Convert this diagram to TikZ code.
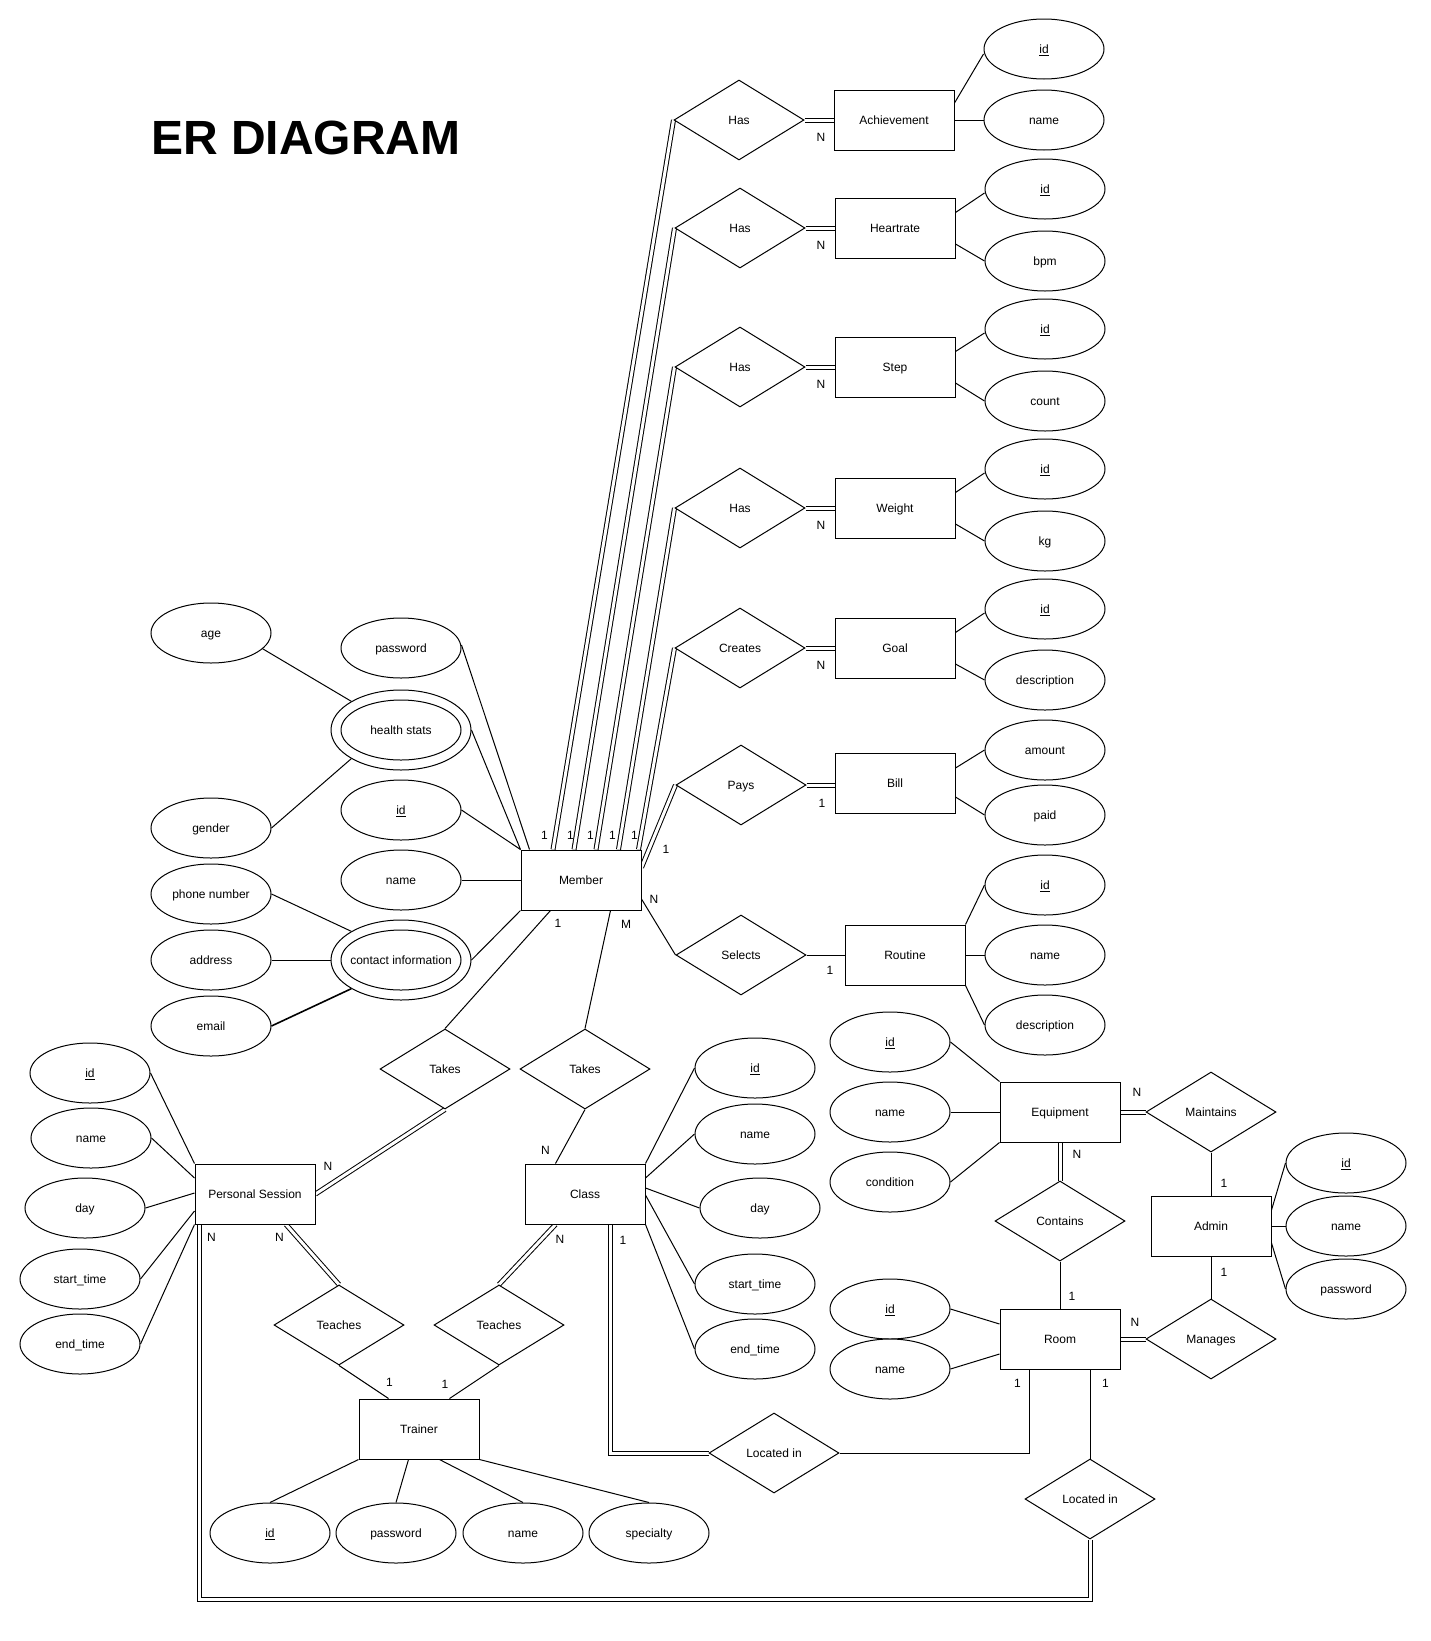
\documentclass[tikz,border=0pt]{standalone}
\usepackage{fontspec}
\setmainfont{Liberation Sans}
\usetikzlibrary{shapes.geometric,calc,backgrounds}
\newcommand\mk[1]{\makebox[0pt]{\rule[-2.4pt]{0pt}{13.4pt}#1}}
\tikzset{
 ent/.style={draw, rectangle, minimum width=120pt, minimum height=60pt, inner sep=0pt, fill=white, line width=1pt},
 rel/.style={draw, diamond, minimum width=130pt, minimum height=80pt, inner sep=0pt, fill=white, line width=1pt},
 att/.style={draw, ellipse, minimum width=120pt, minimum height=60pt, inner sep=0pt, fill=white, line width=1pt},
 mattout/.style={draw, ellipse, minimum width=140pt, minimum height=80pt, inner sep=0pt, fill=white, line width=1pt},
 card/.style={inner sep=0pt},
 conn/.style={line width=1pt},
 dbl/.style={double, double distance=3pt, line width=1pt},
}
\begin{document}
\begin{tikzpicture}[x=1pt,y=-1pt,font=\fontsize{12}{14}\selectfont]
\begin{pgfonlayer}{background}
\fill[white] (0,0) rectangle (1431,1641);
\end{pgfonlayer}
\useasboundingbox (0,0) rectangle (1431,1641);

% title
\node[anchor=base west, inner sep=0pt, font=\bfseries\fontsize{48}{56}\selectfont] (title) at (151,154) {ER DIAGRAM};

% entities
\node[ent] (ach) at (894,120) {\mk{Achievement}};
\node[ent] (hr) at (895,228) {\mk{Heartrate}};
\node[ent] (step) at (895,367) {\mk{Step}};
\node[ent] (wt) at (895,508) {\mk{Weight}};
\node[ent] (goal) at (895,648) {\mk{Goal}};
\node[ent] (bill) at (895,783) {\mk{Bill}};
\node[ent] (rout) at (905,955) {\mk{Routine}};
\node[ent] (mem) at (581,880) {\mk{Member}};
\node[ent] (ps) at (255,1194) {\mk{Personal Session}};
\node[ent] (cls) at (585,1194) {\mk{Class}};
\node[ent] (trn) at (419,1429) {\mk{Trainer}};
\node[ent] (eqp) at (1060,1112) {\mk{Equipment}};
\node[ent] (adm) at (1211,1226) {\mk{Admin}};
\node[ent] (room) at (1060,1339) {\mk{Room}};

% relationships
\node[rel] (has1) at (739,120) {\mk{Has}};
\node[rel] (has2) at (740,228) {\mk{Has}};
\node[rel] (has3) at (740,367) {\mk{Has}};
\node[rel] (has4) at (740,508) {\mk{Has}};
\node[rel] (creates) at (740,648) {\mk{Creates}};
\node[rel] (pays) at (741,785) {\mk{Pays}};
\node[rel] (selects) at (741,955) {\mk{Selects}};
\node[rel] (takesP) at (445,1069) {\mk{Takes}};
\node[rel] (takesC) at (585,1069) {\mk{Takes}};
\node[rel] (teachP) at (339,1325) {\mk{Teaches}};
\node[rel] (teachC) at (499,1325) {\mk{Teaches}};
\node[rel] (locC) at (774,1453) {\mk{Located in}};
\node[rel] (locR) at (1090,1499) {\mk{Located in}};
\node[rel] (maint) at (1211,1112) {\mk{Maintains}};
\node[rel] (contains) at (1060,1221) {\mk{Contains}};
\node[rel] (manages) at (1211,1339) {\mk{Manages}};

% attributes right column
\node[att] (achid) at (1044,49) {\mk{\underline{id}}};
\node[att] (achname) at (1044,120) {\mk{name}};
\node[att] (hrid) at (1045,189) {\mk{\underline{id}}};
\node[att] (hrbpm) at (1045,261) {\mk{bpm}};
\node[att] (stid) at (1045,329) {\mk{\underline{id}}};
\node[att] (stcount) at (1045,401) {\mk{count}};
\node[att] (wtid) at (1045,469) {\mk{\underline{id}}};
\node[att] (wtkg) at (1045,541) {\mk{kg}};
\node[att] (gid) at (1045,609) {\mk{\underline{id}}};
\node[att] (gdesc) at (1045,680) {\mk{description}};
\node[att] (bamt) at (1045,750) {\mk{amount}};
\node[att] (bpaid) at (1045,815) {\mk{paid}};
\node[att] (rid) at (1045,885) {\mk{\underline{id}}};
\node[att] (rname) at (1045,955) {\mk{name}};
\node[att] (rdesc) at (1045,1025) {\mk{description}};

% member attributes
\node[att] (age) at (211,633) {\mk{age}};
\node[att] (pwd) at (401,648) {\mk{password}};
\node[mattout] (health) at (401,730) {};
\node[att] (healthin) at (401,730) {\mk{health stats}};
\node[att] (gender) at (211,828) {\mk{gender}};
\node[att] (mid) at (401,810) {\mk{\underline{id}}};
\node[att] (mname) at (401,880) {\mk{name}};
\node[att] (phone) at (211,894) {\mk{phone number}};
\node[att] (addr) at (211,960) {\mk{address}};
\node[mattout] (contact) at (401,960) {};
\node[att] (contactin) at (401,960) {\mk{contact information}};
\node[att] (email) at (211,1026) {\mk{email}};

% personal session attributes
\node[att] (psid) at (90,1073) {\mk{\underline{id}}};
\node[att] (psname) at (91,1138) {\mk{name}};
\node[att] (psday) at (85,1208) {\mk{day}};
\node[att] (psst) at (80,1279) {\mk{start\_time}};
\node[att] (pset) at (80,1344) {\mk{end\_time}};

% class attributes
\node[att] (cid) at (755,1068) {\mk{\underline{id}}};
\node[att] (cname) at (755,1134) {\mk{name}};
\node[att] (cday) at (760,1208) {\mk{day}};
\node[att] (cst) at (755,1284) {\mk{start\_time}};
\node[att] (cet) at (755,1349) {\mk{end\_time}};

% trainer attributes
\node[att] (tid) at (270,1533) {\mk{\underline{id}}};
\node[att] (tpwd) at (396,1533) {\mk{password}};
\node[att] (tname) at (523,1533) {\mk{name}};
\node[att] (tspec) at (649,1533) {\mk{specialty}};

% equipment, room, admin attributes
\node[att] (eid) at (890,1042) {\mk{\underline{id}}};
\node[att] (ename) at (890,1112) {\mk{name}};
\node[att] (econd) at (890,1182) {\mk{condition}};
\node[att] (roid) at (890,1309) {\mk{\underline{id}}};
\node[att] (roname) at (890,1369) {\mk{name}};
\node[att] (aid) at (1346,1163) {\mk{\underline{id}}};
\node[att] (aname) at (1346,1226) {\mk{name}};
\node[att] (apwd) at (1346,1289) {\mk{password}};

% cardinality labels
\node[card] (n1) at (821,137) {N};
\node[card] (n2) at (821,245) {N};
\node[card] (n3) at (821,384) {N};
\node[card] (n4) at (821,525) {N};
\node[card] (n5) at (821,665) {N};
\node[card] (n6) at (822,803) {1};
\node[card] (n7) at (830,970) {1};
\node[card] (m1) at (544.5,835.5) {1};
\node[card] (m2) at (570.5,835.5) {1};
\node[card] (m3) at (590.5,835.5) {1};
\node[card] (m4) at (612.5,835.5) {1};
\node[card] (m5) at (634.5,835.5) {1};
\node[card] (m6) at (666,849) {1};
\node[card] (m7) at (654,899) {N};
\node[card] (m8) at (558,923) {1};
\node[card] (m9) at (626,924) {M};
\node[card] (p1) at (328,1166) {N};
\node[card] (p2) at (211.5,1237) {N};
\node[card] (p3) at (279.5,1237) {N};
\node[card] (c1) at (545.5,1150) {N};
\node[card] (c2) at (560,1239) {N};
\node[card] (c3) at (623,1240) {1};
\node[card] (t1) at (389.5,1382) {1};
\node[card] (t2) at (445,1384) {1};
\node[card] (r1) at (1017.5,1383) {1};
\node[card] (r2) at (1105.5,1383) {1};
\node[card] (e1) at (1137,1092) {N};
\node[card] (e2) at (1077,1154.5) {N};
\node[card] (a1) at (1224,1183) {1};
\node[card] (a2) at (1224,1272) {1};
\node[card] (r3) at (1072,1296) {1};
\node[card] (r4) at (1135,1322) {N};

\begin{pgfonlayer}{background}
% member to top relationships
\draw[dbl] ($(mem.north west)+(32.5,0)$) -- (has1.west);
\draw[dbl] ($(mem.north west)+(53.5,0)$) -- (has2.west);
\draw[dbl] ($(mem.north west)+(75.5,0)$) -- (has3.west);
\draw[dbl] ($(mem.north west)+(98,0)$) -- (has4.west);
\draw[dbl] ($(mem.north west)+(118,0)$) -- (creates.west);
\draw[dbl] ($(mem.north east)+(0,18)$) -- (pays.west);
\draw[conn] ($(mem.east)+(0,19)$) -- (selects.west);
% relationships to entities
\draw[dbl] (has1.east) -- (ach.west);
\draw[dbl] (has2.east) -- (hr.west);
\draw[dbl] (has3.east) -- (step.west);
\draw[dbl] (has4.east) -- (wt.west);
\draw[dbl] (creates.east) -- (goal.west);
\draw[dbl] (pays.east) -- (pays.east -| bill.west);
\draw[conn] (selects.east) -- (rout.west);
% right attributes
\draw[conn] ($(ach.east)+(0,-17)$) -- ($(achid.west)+(0,5)$);
\draw[conn] (ach.east) -- (achname.west);
\draw[conn] ($(hr.east)+(0,-15.5)$) -- ($(hrid.west)+(0,4)$);
\draw[conn] ($(hr.east)+(0,16)$) -- (hrbpm.west);
\draw[conn] ($(step.east)+(0,-15.5)$) -- ($(stid.west)+(0,4)$);
\draw[conn] ($(step.east)+(0,16)$) -- (stcount.west);
\draw[conn] ($(wt.east)+(0,-15.5)$) -- ($(wtid.west)+(0,4)$);
\draw[conn] ($(wt.east)+(0,16)$) -- (wtkg.west);
\draw[conn] ($(goal.east)+(0,-15.5)$) -- ($(gid.west)+(0,4)$);
\draw[conn] ($(goal.east)+(0,16)$) -- (gdesc.west);
\draw[conn] ($(bill.east)+(0,-15)$) -- (bamt.west);
\draw[conn] ($(bill.east)+(0,14)$) -- (bpaid.west);
\draw[conn] (rout.north east) -- (rid.west);
\draw[conn] (rout.east) -- (rname.west);
\draw[conn] (rout.south east) -- (rdesc.west);
% member attributes
\draw[conn] ($(pwd.east)+(0,-3)$) -- ($(mem.north west)+(9,0)$);
\draw[conn] (health.east) -- (mem.north west);
\draw[conn] (mid.east) -- (mem.north west);
\draw[conn] (mname.east) -- (mem.west);
\draw[conn] (contact.east) -- (mem.south west);
\draw[conn] (age.-17) -- (health.150);
\draw[conn] (gender.east) -- (health.210);
\draw[conn] (phone.east) -- (contact.150);
\draw[conn] (addr.east) -- (contact.west);
\draw[line width=1.6pt] (email.east) -- (contact.210);
% member to takes
\draw[conn] ($(mem.south west)+(30,0)$) -- (takesP.north);
\draw[conn] ($(mem.south west)+(90,0)$) -- (takesC.north);
\draw[dbl] (takesP.south) -- (ps.east);
\draw[conn] (takesC.south) -- ($(cls.north west)+(31,0)$);
% teaches
\draw[dbl] ($(ps.south west)+(91.5,0)$) -- (teachP.north);
\draw[dbl] ($(cls.south west)+(31,0)$) -- (teachC.north);
\draw[conn] (teachP.south) -- ($(trn.north west)+(30,0)$);
\draw[conn] (teachC.south) -- ($(trn.north west)+(91,0)$);
% located in
\draw[dbl] ($(cls.south west)+(85.5,0)$) |- (locC.west);
\draw[conn] (locC.east) -| ($(room.south west)+(30,0)$);
\draw[conn] (room.south -| locR.north) -- (locR.north);
\draw[dbl] ($(ps.south west)+(5,0)$) |- ($(locR.south)+(0,60)$) -- (locR.south);
% PS attributes
\draw[conn] (psid.east) -- (ps.north west);
\draw[conn] (psname.east) -- ($(ps.west)+(0,-16)$);
\draw[conn] (psday.east) -- ($(ps.west)+(0,-1)$);
\draw[conn] (psst.east) -- ($(ps.west)+(0,17)$);
\draw[conn] (pset.east) -- (ps.south west);
% class attributes
\draw[conn] (cls.north east) -- (cid.west);
\draw[conn] ($(cls.east)+(0,-16)$) -- (cname.west);
\draw[conn] ($(cls.east)+(0,-6)$) -- (cday.west);
\draw[conn] ($(cls.east)+(0,1)$) -- (cst.west);
\draw[conn] (cls.south east) -- (cet.west);
% trainer attributes
\draw[conn] (trn.south west) -- (tid.north);
\draw[conn] ($(trn.south west)+(50,0)$) -- (tpwd.north);
\draw[conn] ($(trn.south west)+(81,0)$) -- (tname.north);
\draw[conn] (trn.south east) -- (tspec.north);
% equipment / room / admin
\draw[conn] (eid.east) -- (eqp.north west);
\draw[conn] (ename.east) -- (eqp.west);
\draw[conn] (econd.east) -- (eqp.south west);
\draw[conn] (roid.east) -- ($(room.west)+(0,-15)$);
\draw[conn] (roname.east) -- ($(room.west)+(0,15)$);
\draw[conn] ($(adm.east)+(0,-16)$) -- (aid.west);
\draw[conn] (adm.east) -- (aname.west);
\draw[conn] ($(adm.east)+(0,17)$) -- (apwd.west);
\draw[dbl] (eqp.east) -- (maint.west);
\draw[conn] (maint.south) -- (adm.north);
\draw[dbl] (eqp.south) -- (contains.north);
\draw[conn] (contains.south) -- (room.north);
\draw[conn] (adm.south) -- (manages.north);
\draw[dbl] (room.east) -- (manages.west);
\end{pgfonlayer}
\end{tikzpicture}
\end{document}
